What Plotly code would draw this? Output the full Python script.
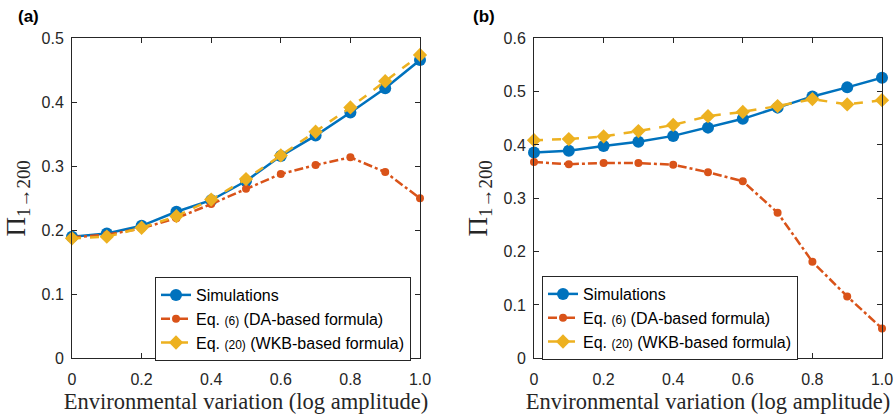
import plotly.graph_objects as go

x_vals = [0.0, 0.1, 0.2, 0.3, 0.4, 0.5, 0.6, 0.7, 0.8, 0.9, 1.0]

# Panel (a)
a_sim = [0.190, 0.195, 0.207, 0.229, 0.247, 0.277, 0.316, 0.348, 0.384, 0.422, 0.466]
a_da = [0.189, 0.193, 0.203, 0.219, 0.241, 0.265, 0.288, 0.302, 0.314, 0.291, 0.250]
a_wkb = [0.1875, 0.190, 0.204, 0.222, 0.248, 0.280, 0.317, 0.354, 0.392, 0.433, 0.474]

# Panel (b)
b_sim = [0.386, 0.389, 0.398, 0.406, 0.417, 0.4325, 0.449, 0.470, 0.491, 0.508, 0.526]
b_da = [0.368, 0.364, 0.366, 0.366, 0.363, 0.349, 0.332, 0.273, 0.181, 0.116, 0.056]
b_wkb = [0.409, 0.411, 0.416, 0.426, 0.4375, 0.454, 0.462, 0.473, 0.486, 0.476, 0.484]

x_tickvals = [0, 0.2, 0.4, 0.6, 0.8, 1.0]
x_ticktext = ["0", "0.2", "0.4", "0.6", "0.8", "1.0"]
a_yticks = [0, 0.1, 0.2, 0.3, 0.4, 0.5]
a_yticktext = ["0", "0.1", "0.2", "0.3", "0.4", "0.5"]
b_yticks = [0, 0.1, 0.2, 0.3, 0.4, 0.5, 0.6]
b_yticktext = ["0", "0.1", "0.2", "0.3", "0.4", "0.5", "0.6"]

names = [
    "Simulations",
    "Eq. <span style='font-size:12px'>(6)</span> (DA-based formula)",
    "Eq. <span style='font-size:12px'>(20)</span> (WKB-based formula)",
]

BLUE = "#0072BD"
ORANGE = "#D95319"
YELLOW = "#EDB120"

W, H = 896, 420

fig = go.Figure()

def add_panel(xa, ya, leg, sim, da, wkb):
    fig.add_trace(go.Scatter(x=x_vals, y=sim, mode="lines+markers", name=names[0],
                             line=dict(color=BLUE, width=2.5),
                             marker=dict(symbol="circle", size=12, color=BLUE),
                             xaxis=xa, yaxis=ya, legend=leg, cliponaxis=False))
    fig.add_trace(go.Scatter(x=x_vals, y=da, mode="lines+markers", name=names[1],
                             line=dict(color=ORANGE, width=2.5, dash="dashdot"),
                             marker=dict(symbol="circle", size=8, color=ORANGE),
                             xaxis=xa, yaxis=ya, legend=leg, cliponaxis=False))
    fig.add_trace(go.Scatter(x=x_vals, y=wkb, mode="lines+markers", name=names[2],
                             line=dict(color=YELLOW, width=2.5, dash="dash"),
                             marker=dict(symbol="diamond", size=11, color=YELLOW),
                             xaxis=xa, yaxis=ya, legend=leg, cliponaxis=False))

add_panel("x", "y", "legend", a_sim, a_da, a_wkb)
add_panel("x2", "y2", "legend2", b_sim, b_da, b_wkb)

tickfont = dict(family="Liberation Sans, Arial, sans-serif", size=16, color="#262626")
serif = "Liberation Serif, Times New Roman, serif"

axis_common = dict(showline=True, linecolor="#262626", linewidth=1, mirror="ticks",
                   ticks="inside", ticklen=5, tickcolor="#262626", showgrid=False,
                   zeroline=False, tickfont=tickfont, automargin=False)

ydom = [1 - 358.3 / H, 1 - 38.3 / H]
xtitle = dict(text="Environmental variation (log amplitude)",
              font=dict(family=serif, size=22.5, color="#262626"), standoff=6)
ytitle = dict(text="Π<sub>1→200</sub>", font=dict(family=serif, size=27, color="#262626"),
              standoff=8)

fig.update_layout(
    width=W, height=H,
    margin=dict(l=0, r=0, t=0, b=0),
    paper_bgcolor="white", plot_bgcolor="white",
    xaxis=dict(domain=[72 / W, 420 / W], range=[0, 1], tickvals=x_tickvals, ticktext=x_ticktext,
               title=xtitle, ticklabelstandoff=6, **axis_common),
    yaxis=dict(domain=ydom, range=[0, 0.5], tickvals=a_yticks, ticktext=a_yticktext,
               title=ytitle, ticklabelstandoff=4, **axis_common),
    xaxis2=dict(domain=[534 / W, 882 / W], range=[0, 1], tickvals=x_tickvals, ticktext=x_ticktext,
                anchor="y2", title=xtitle, ticklabelstandoff=6, **axis_common),
    yaxis2=dict(domain=ydom, range=[0, 0.6], tickvals=b_yticks, ticktext=b_yticktext, anchor="x2",
                title=ytitle, ticklabelstandoff=4, **axis_common),
    legend=dict(x=155 / W, y=1 - 277 / H, xanchor="left", yanchor="top",
                bgcolor="white", bordercolor="#262626", borderwidth=1,
                font=dict(family="Liberation Sans, Arial, sans-serif", size=16, color="black"),
                tracegroupgap=0, itemwidth=30),
    legend2=dict(x=542 / W, y=1 - 276 / H, xanchor="left", yanchor="top",
                 bgcolor="white", bordercolor="#262626", borderwidth=1,
                 font=dict(family="Liberation Sans, Arial, sans-serif", size=16, color="black"),
                 tracegroupgap=0, itemwidth=30),
    annotations=[
        dict(text="<b>(a)</b>", x=16 / W, y=1 - 17 / H, xref="paper", yref="paper",
             xanchor="left", yanchor="middle", showarrow=False,
             font=dict(family="Liberation Sans, Arial, sans-serif", size=17, color="black")),
        dict(text="<b>(b)</b>", x=471 / W, y=1 - 17 / H, xref="paper", yref="paper",
             xanchor="left", yanchor="middle", showarrow=False,
             font=dict(family="Liberation Sans, Arial, sans-serif", size=17, color="black")),
    ],
)

fig.write_html("out.html", config={"displayModeBar": False},
               post_script="document.body.style.margin='0';document.body.style.overflow='hidden';")
